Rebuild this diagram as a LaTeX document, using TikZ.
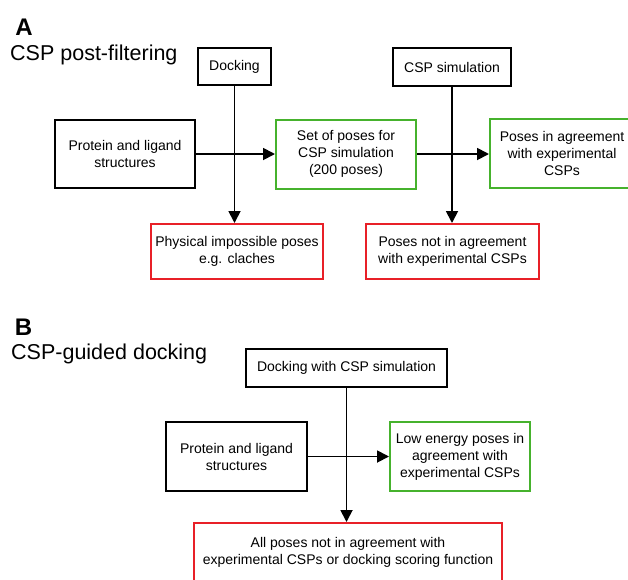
\documentclass[tikz,border=0pt]{standalone}
\usepackage{fontspec}
\setmainfont{Liberation Sans}
\usetikzlibrary{arrows.meta}
\definecolor{boxgreen}{RGB}{70,178,45}
\definecolor{boxred}{RGB}{232,32,40}
\tikzset{
  box/.style={draw=black, line width=2pt, inner sep=2pt, align=center,
    font=\fontsize{14}{17}\selectfont, fill=white},
  gbox/.style={box, draw=boxgreen},
  rbox/.style={box, draw=boxred},
  arr/.style={line width=1.8pt, -{Triangle[length=12pt,width=12pt]}},
  ttl/.style={font=\fontsize{21.5}{24}\selectfont, inner sep=0pt, anchor=base west},
  lbl/.style={font=\bfseries\fontsize{24}{26}\selectfont, inner sep=0pt}
}
\begin{document}
\begin{tikzpicture}[x=1pt,y=-1pt]
\useasboundingbox (0,0) rectangle (628,579);
% Panel A
\node[lbl] (la) at (24,27) {A};
\node[ttl] (ta) at (10,60) {CSP post-filtering};
\node[box, minimum width=73pt, minimum height=37pt] (dock) at (234.5,66.5) {Docking};
\node[box, minimum width=140pt, minimum height=68pt] (prot) at (125,154) {Protein and ligand\\structures};
\node[gbox, minimum width=140pt, minimum height=69pt] (set) at (346,154) {Set of poses for\\CSP simulation\\(200 poses)};
\node[box, minimum width=118pt, minimum height=38pt] (cspsim) at (452,67) {CSP simulation};
\node[gbox, minimum width=144pt, minimum height=69pt] (agree) at (562,153.5) {Poses in agreement\\with experimental\\CSPs};
\node[rbox, minimum width=172pt, minimum height=55pt] (phys) at (237,251.5) {Physical impossible poses\\e.g. claches};
\node[rbox, minimum width=173pt, minimum height=55pt] (notag) at (452.5,251.5) {Poses not in agreement\\with experimental CSPs};
\draw[arr] (prot.east) -- (set.west);
\draw[arr] (set.east) -- (agree.west |- set.east);
\draw[arr] (dock.south) -- (dock.south |- phys.north);
\draw[arr] (cspsim.south) -- (cspsim.south |- notag.north);
% Panel B
\node[lbl] (lb) at (23.5,327.5) {B};
\node[ttl] (tb) at (11,359) {CSP-guided docking};
\node[box, minimum width=201pt, minimum height=38pt] (dockb) at (346.5,368) {Docking with CSP simulation};
\node[box, minimum width=141pt, minimum height=69pt] (protb) at (236.5,456.5) {Protein and ligand\\structures};
\node[gbox, minimum width=140pt, minimum height=69pt] (lowb) at (460,456.5) {Low energy poses in\\agreement with\\experimental CSPs};
\node[rbox, minimum width=308pt, minimum height=58pt] (redb) at (348,552) {All poses not in agreement with\\experimental CSPs or docking scoring function};
\draw[arr] (protb.east) -- (lowb.west);
\draw[arr] (dockb.south) -- (dockb.south |- redb.north);
\end{tikzpicture}
\end{document}
